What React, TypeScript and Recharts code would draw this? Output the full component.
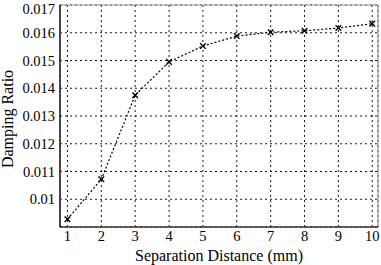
import React from 'react';
import { LineChart, Line, XAxis, YAxis, CartesianGrid, ReferenceArea } from 'recharts';

const distances = [1, 2, 3, 4, 5, 6, 7, 8, 9, 10];
const dampingRatios = [0.00928, 0.01072, 0.01375, 0.01495, 0.01552, 0.01588, 0.01602, 0.01607, 0.01617, 0.01633];
const yTicks = [0.01, 0.011, 0.012, 0.013, 0.014, 0.015, 0.016, 0.017];
const xTicks = [1, 2, 3, 4, 5, 6, 7, 8, 9, 10];

const data = distances.map((d, i) => ({ x: d, y: dampingRatios[i] }));

const XDOM: [number, number] = [0.78, 10.17];
const YDOM: [number, number] = [0.009, 0.017];

const Cross = (props: any) => {
  const { cx, cy } = props;
  if (cx == null || cy == null) return null;
  const s = 2.8;
  return (
    <g stroke="#000" strokeWidth={1.4}>
      <line x1={cx - s} y1={cy - s} x2={cx + s} y2={cy + s} />
      <line x1={cx - s} y1={cy + s} x2={cx + s} y2={cy - s} />
    </g>
  );
};

const font = '"Liberation Serif", "Times New Roman", serif';

export default function App() {
  return (
    <div style={{ position: 'absolute', left: 0, top: 0, width: 381, height: 265, background: '#fff' }}>
      <LineChart width={381} height={265} data={data} margin={{ top: 5, right: 3, left: 0, bottom: 0 }}>
        <CartesianGrid stroke="#000" strokeDasharray="2 3" strokeWidth={0.9} />
        <ReferenceArea x1={XDOM[0]} x2={XDOM[1]} y1={YDOM[0]} y2={YDOM[1]} fill="none" stroke="#999" strokeWidth={1.2} ifOverflow="visible" />
        <XAxis
          dataKey="x"
          type="number"
          domain={XDOM}
          ticks={xTicks}
          allowDataOverflow
          height={38}
          tickLine={false}
          tickSize={0}
          axisLine={{ stroke: '#000', strokeWidth: 1.2 }}
          tick={{ fill: '#000', fontSize: 14.5, fontFamily: font }}
          tickMargin={4}
          label={{
            content: (p: any) => {
              const vb = p.viewBox;
              return (
                <text x={vb.x + vb.width / 2} y={261} textAnchor="middle" fontSize={16} fontFamily={font} fill="#000">
                  Separation Distance (mm)
                </text>
              );
            },
          }}
        />
        <YAxis
          type="number"
          domain={YDOM}
          ticks={yTicks}
          allowDataOverflow
          width={60}
          tickLine={false}
          tickSize={0}
          axisLine={{ stroke: '#000', strokeWidth: 1.2 }}
          tick={{ fill: '#000', fontSize: 14.5, fontFamily: font }}
          tickMargin={5}
          label={{
            content: () => {
              const cy = 119;
              const cx = 13;
              return (
                <text x={cx} y={cy} transform={`rotate(-90 ${cx} ${cy})`} textAnchor="middle" fontSize={16} fontFamily={font} fill="#000">
                  Damping Ratio
                </text>
              );
            },
          }}
        />
        <Line
          type="linear"
          dataKey="y"
          stroke="#000"
          strokeWidth={1.2}
          strokeDasharray="2 2"
          dot={<Cross />}
          activeDot={false}
          isAnimationActive={false}
        />
      </LineChart>
    </div>
  );
}
